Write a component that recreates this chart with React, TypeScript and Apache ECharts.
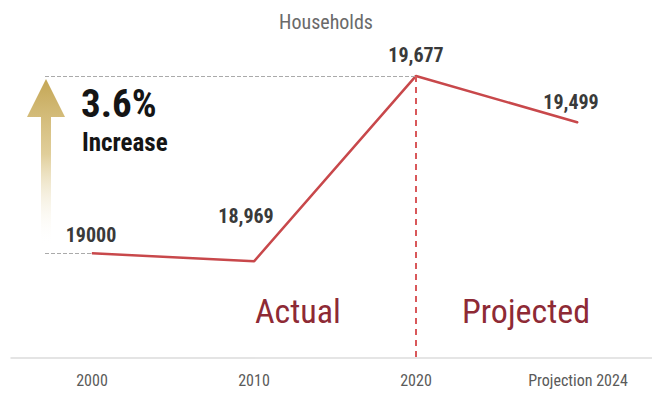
import React, { useEffect, useRef } from "react";
import * as echarts from "echarts";

const categories = ["2000", "2010", "2020", "Projection 2024"];
const households = [19000, 18969, 19677, 19499];
const labelTexts = ["19000", "18,969", "19,677", "19,499"];
const labelDistances = [8, 35, 10, 10];
const labelOffsetsX = [-1, -8, 0, -7];

const FONT = "'Roboto Condensed', 'Liberation Sans Narrow', 'DejaVu Sans Condensed', Roboto, sans-serif";

export default function App() {
  const ref = useRef<HTMLDivElement>(null);
  useEffect(() => {
    if (!ref.current) return;
    const chart = echarts.init(ref.current, null, { renderer: "svg" });
    const peakIdx = 2;
    const option: any = {
      animation: false,
      backgroundColor: "#ffffff",
      title: {
        text: "Households",
        left: "center",
        top: 7,
        textStyle: { fontFamily: FONT, fontSize: 20, fontWeight: "normal", color: "#6a6a6a" },
      },
      grid: { left: 11, width: 648, top: 28, height: 330, containLabel: false, outerBoundsMode: "none" },
      xAxis: {
        type: "category",
        data: categories,
        boundaryGap: true,
        axisLine: { lineStyle: { color: "#dcdcdc", width: 1.5 } },
        axisTick: { show: false },
        axisLabel: { fontFamily: FONT, fontSize: 16, color: "#5a5a5a", margin: 14 },
        splitLine: { show: false },
      },
      yAxis: {
        type: "value",
        min: 18600,
        max: 19860,
        show: false,
        splitLine: { show: false },
      },
      series: [
        {
          type: "line",
          data: households.map((v, i) => ({
            value: v,
            label: {
              show: true,
              position: "top",
              distance: labelDistances[i],
              offset: [labelOffsetsX[i], 0],
              formatter: labelTexts[i],
            },
          })),
          symbol: "circle",
          symbolSize: 1,
          itemStyle: { color: "#c8484b" },
          lineStyle: { color: "#c8484b", width: 2.5 },
          label: {
            fontFamily: FONT,
            fontSize: 20,
            fontWeight: "bold",
            color: "#3a3a3a",
          },
          markLine: {
            silent: true,
            symbol: ["none", "none"],
            label: { show: false },
            data: [
              [
                { x: 45, yAxis: households[peakIdx], lineStyle: { color: "#aaa", type: "dashed", width: 1 } },
                { xAxis: peakIdx, yAxis: households[peakIdx] },
              ],
              [
                { x: 45, yAxis: households[0], lineStyle: { color: "#aaa", type: "dashed", width: 1 } },
                { xAxis: 0, yAxis: households[0] },
              ],
              [
                { xAxis: peakIdx, yAxis: households[peakIdx], lineStyle: { color: "#d9585a", type: [6, 5], width: 2 } },
                { xAxis: peakIdx, yAxis: 18600 },
              ],
            ],
          },
        },
      ],
      graphic: [
        {
          type: "polygon",
          shape: {
            points: [
              [46, 79],
              [65, 117],
              [51, 117],
              [51, 246],
              [41, 246],
              [41, 117],
              [27, 117],
            ],
          },
          style: {
            fill: new echarts.graphic.LinearGradient(0, 0, 0, 1, [
              { offset: 0, color: "#c4a655" },
              { offset: 0.45, color: "rgba(214,190,120,0.75)" },
              { offset: 1, color: "rgba(255,255,255,0)" },
            ]),
          },
        },
        {
          type: "text",
          left: 81,
          top: 84,
          style: { text: "3.6%", fontFamily: FONT, fontSize: 39, fontWeight: "bold", fill: "#151515" },
        },
        {
          type: "text",
          left: 82,
          top: 130,
          style: { text: "Increase", fontFamily: FONT, fontSize: 25, fontWeight: "bold", fill: "#151515" },
        },
        {
          type: "text",
          left: 255,
          top: 294,
          style: { text: "Actual", fontFamily: FONT, fontSize: 34, fontWeight: "normal", fill: "#8e2a35" },
        },
        {
          type: "text",
          left: 462,
          top: 294,
          style: { text: "Projected", fontFamily: FONT, fontSize: 34, fontWeight: "normal", fill: "#8e2a35" },
        },
      ],
    };
    chart.setOption(option);
    return () => chart.dispose();
  }, []);
  return (
    <div
      ref={ref}
      style={{ position: "fixed", left: 0, top: 0, width: 652, height: 394 }}
    />
  );
}
